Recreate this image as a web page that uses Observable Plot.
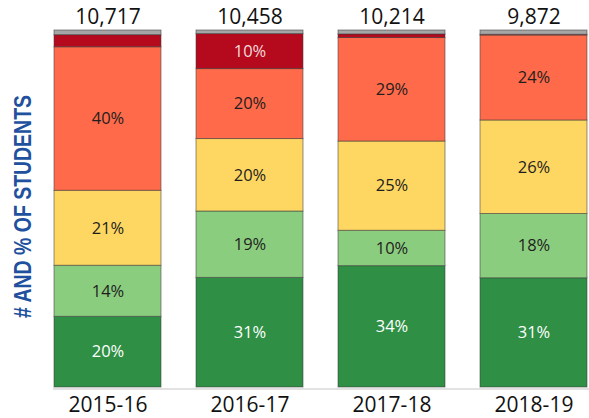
<!DOCTYPE html>
<html>
<head>
<meta charset="utf-8">
<script src="https://cdn.jsdelivr.net/npm/d3@7"></script>
<script src="https://cdn.jsdelivr.net/npm/@observablehq/plot@0.6"></script>
<style>
  html, body { margin: 0; padding: 0; background: #fff; }
  #chart { width: 589px; height: 418px; overflow: hidden; }
</style>
</head>
<body>
<div id="chart"></div>
<script>
const years = ["2015-16", "2016-17", "2017-18", "2018-19"];
const totals = [10717, 10458, 10214, 9872];
const categories = ["level1", "level2", "level3", "level4", "level5", "unknown"];
const level1Pct = [19.8, 30.7, 34.0, 30.6];   // dark green
const level2Pct = [14.3, 18.6, 9.9, 18.0];    // light green
const level3Pct = [21.0, 20.3, 25.0, 26.2];   // yellow
const level4Pct = [40.2, 19.6, 29.0, 23.8];   // orange-red
const level5Pct = [3.4, 9.8, 1.0, 0.2];       // dark red
const unknownPct = [1.3, 1.0, 1.1, 1.2];      // gray

const colors = ["#2e8f45", "#8bcd7e", "#fed662", "#ff6a4a", "#b50a1e", "#a6a6a6"];
const labelColors = { level1: "#ffffff", level5: "#f4dada" };

const seriesByCat = {
  level1: level1Pct, level2: level2Pct, level3: level3Pct,
  level4: level4Pct, level5: level5Pct, unknown: unknownPct
};
const table = [];
years.forEach((yr, i) => {
  categories.forEach(cat => table.push({ year: yr, cat, value: seriesByCat[cat][i] }));
});
const totalsTable = years.map((yr, i) => ({ year: yr, total: totals[i] }));

const fmtPct = v => Math.round(v) + "%";
const fmtTotal = d3.format(",");

const plot = Plot.plot({
  width: 589,
  height: 418,
  marginTop: 30,
  marginBottom: 31,
  marginLeft: 53,
  marginRight: 0,
  style: { fontFamily: "Open Sans", background: "#fff" },
  x: { domain: years, paddingInner: 0.243, paddingOuter: 0, label: null },
  y: { domain: [0, 100], axis: null },
  color: { type: "ordinal", domain: categories, range: colors },
  marks: [
    Plot.ruleY([0], { stroke: "#d9d9d9", strokeWidth: 1.5, dy: 1.5 }),
    Plot.barY(table, Plot.stackY({
      x: "year", y: "value", z: "cat", fill: "cat", order: null,
      stroke: "#3a3a3a", strokeOpacity: 0.55, strokeWidth: 1
    })),
    Plot.text(table, Plot.stackY({
      x: "year", y: "value", z: "cat", order: null,
      text: d => d.value >= 5 ? fmtPct(d.value) : "",
      fill: d => labelColors[d.cat] || "#1e1e1e",
      fontSize: 16.5
    })),
    Plot.text(totalsTable, {
      x: "year", y: 100, text: d => fmtTotal(d.total),
      fontSize: 21, fill: "#111", dy: -13
    }),
    Plot.axisX({ tickSize: 0, tickPadding: 10, fontSize: 21, fill: "#111", label: null })
  ]
});

// Rotated y-axis title
const svg = d3.select(plot);
svg.append("text")
  .attr("transform", "translate(31,206.5) rotate(-90)")
  .attr("text-anchor", "middle")
  .attr("font-family", "Liberation Sans, Arial, sans-serif")
  .attr("font-weight", "bold")
  .attr("font-size", 23)
  .attr("fill", "#21509e")
  .attr("textLength", 223)
  .attr("lengthAdjust", "spacingAndGlyphs")
  .text("# AND % OF STUDENTS");

document.getElementById("chart").appendChild(plot);
</script>
</body>
</html>
